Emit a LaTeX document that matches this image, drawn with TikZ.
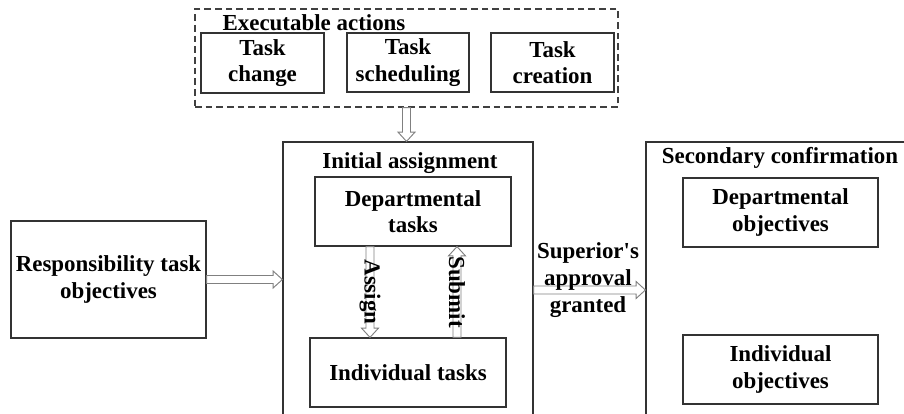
\documentclass[tikz,border=0pt]{standalone}
\usepackage{fontspec}
\setmainfont{Liberation Serif}
\usetikzlibrary{calc}

\tikzset{
  txt/.style={font=\bfseries\fontsize{17.2}{20}\selectfont},
  box/.style={txt, draw=black!80, line width=0.9pt, fill=white, inner sep=2pt, align=center},
  frame/.style={draw=black!80, line width=0.9pt, inner sep=0pt},
  dashframe/.style={draw=black!75, line width=0.9pt, dash pattern=on 5pt off 3pt, inner sep=0pt},
  title/.style={txt, anchor=base, inner sep=0pt},
  label/.style={txt, align=center, inner sep=0pt},
  hollow/.style={draw=black!50, line width=0.7pt, fill=white, line join=miter}
}

% hollow block arrow from #1 to #2 (shaft 3pt half width, head 6.4pt, length 7pt)
\newcommand\hollowarrow[2]{%
  \draw[hollow]
    ($(#1)!3pt!90:(#2)$) --
    ($($(#2)!7pt!(#1)$)!3pt!-90:(#1)$) --
    ($($(#2)!7pt!(#1)$)!6.4pt!-90:(#1)$) --
    (#2) --
    ($($(#2)!7pt!(#1)$)!6.4pt!90:(#1)$) --
    ($($(#2)!7pt!(#1)$)!3pt!90:(#1)$) --
    ($(#1)!3pt!-90:(#2)$) -- cycle;}

\begin{document}
\begin{tikzpicture}[x=0.75pt, y=-0.75pt]
\useasboundingbox (0,0) rectangle (904,414);
\clip (0,0) rectangle (904,414);

% executable actions group
\node[dashframe, minimum width=423*0.75pt, minimum height=98*0.75pt] (exec) at (406.5,58) {};
\node[title] (exect) at (314,31) {Executable actions};
\node[box, minimum width=123*0.75pt, minimum height=60*0.75pt] (tchange) at (262.5,63) {Task\\change};
\node[box, minimum width=122*0.75pt, minimum height=59*0.75pt] (tsched) at (408,62.5) {Task\\scheduling};
\node[box, minimum width=123*0.75pt, minimum height=59*0.75pt] (tcreate) at (552.5,62.5) {Task\\creation};

% responsibility
\node[box, minimum width=195*0.75pt, minimum height=117*0.75pt] (resp) at (108.5,279.5) {Responsibility task\\objectives};

% initial assignment
\node[frame, minimum width=250*0.75pt, minimum height=300*0.75pt] (init) at (408,292) {};
\node[title] (initt) at (410,168) {Initial assignment};
\node[box, minimum width=196*0.75pt, minimum height=69*0.75pt] (dtasks) at (413,211.5) {Departmental\\tasks};
\node[box, minimum width=196*0.75pt, minimum height=69*0.75pt] (itasks) at (408,372.5) {Individual tasks};

% secondary confirmation
\node[frame, minimum width=290*0.75pt, minimum height=300*0.75pt] (second) at (791,292) {};
\node[title] (secondt) at (780,163) {Secondary confirmation};
\node[box, minimum width=195*0.75pt, minimum height=69*0.75pt] (dobj) at (780.5,212.5) {Departmental\\objectives};
\node[box, minimum width=195*0.75pt, minimum height=69*0.75pt] (iobj) at (780.5,369.5) {Individual\\objectives};

% connector end points
\coordinate (e1) at (exec.south);
\coordinate (e2) at (exec.south |- init.north);
\coordinate (r1) at (resp.east);
\coordinate (r2) at (resp.east -| init.west);
\coordinate (a1) at ([xshift=-32.25pt]dtasks.south);
\coordinate (a2) at (a1 |- itasks.north);
\coordinate (s1) at ([xshift=36.75pt]itasks.north);
\coordinate (s2) at (s1 |- dtasks.south);
\coordinate (g1) at ([yshift=1.5pt]init.east);
\coordinate (g2) at (g1 -| second.west);

\hollowarrow{e1}{e2}
\hollowarrow{r1}{r2}
\hollowarrow{a1}{a2}
\hollowarrow{s1}{s2}
\hollowarrow{g1}{g2}

% arrow labels
\node[label, rotate=-90] (assign) at (370,292) {Assign};
\node[label, rotate=-90] (submit) at (457,292) {Submit};
\node[label] (approve) at (588,280) {Superior\textquotesingle s\\approval\\granted};
\end{tikzpicture}
\end{document}
